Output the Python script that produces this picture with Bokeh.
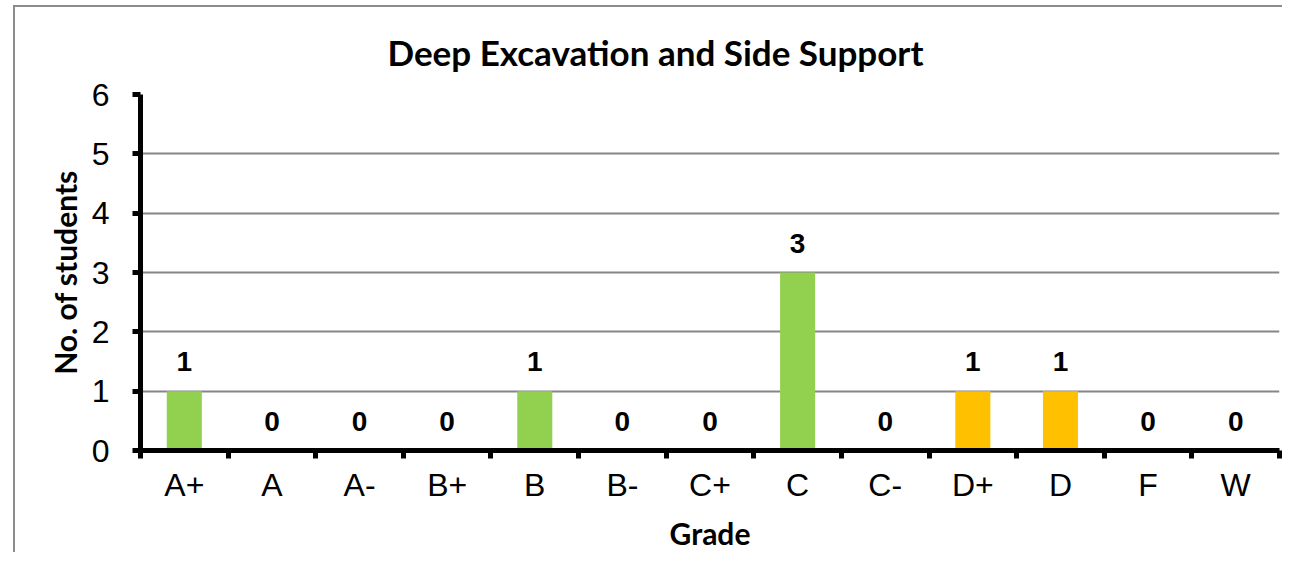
from bokeh.plotting import figure
from bokeh.models import ColumnDataSource, FixedTicker, Range1d
from bokeh.core.properties import value
from bokeh.embed import file_html
from bokeh.resources import INLINE

grades = ["A+", "A", "A-", "B+", "B", "B-", "C+", "C", "C-", "D+", "D", "F", "W"]
students = [1, 0, 0, 0, 1, 0, 0, 3, 0, 1, 1, 0, 0]
colors = ["#92D050"] * 9 + ["#FFC000"] * 2 + ["#92D050"] * 2
title_text = "Deep Excavation and Side Support"

centers = [i + 0.5 for i in range(len(grades))]
src = ColumnDataSource(dict(x=centers, top=students, color=colors,
                            label=[str(v) for v in students]))

p = figure(width=1269, height=547, output_backend="svg", toolbar_location=None,
           x_range=Range1d(0, len(grades)), y_range=Range1d(0, 6),
           min_border_left=125, min_border_right=5, min_border_top=87,
           min_border_bottom=104)
p.styles = {"border-left": "2px solid #8c8c8c", "border-top": "2px solid #8c8c8c",
            "margin-left": "13px", "margin-top": "5px"}

p.title.text = title_text
p.title.align = "left"
p.title.offset = 247
p.title.standoff = 43
p.title.text_font = "Lato"
p.title.text_font_size = "35px"
p.title.text_font_style = "bold"
p.title.text_color = "black"

p.vbar(x="x", top="top", width=0.4, fill_color="color", line_color=None, source=src)
p.text(x="x", y="top", text="label", source=src, text_align="center",
       text_baseline="bottom", y_offset=-20, text_font=value("Liberation Sans"),
       text_font_style="bold", text_font_size="28px", text_color="black")

p.outline_line_color = None
p.xgrid.visible = False
p.ygrid.grid_line_color = "#868686"
p.ygrid.grid_line_width = 2

xa = p.xaxis[0]
xa.ticker = FixedTicker(ticks=centers, minor_ticks=list(range(len(grades) + 1)))
xa.major_label_overrides = {c: g for c, g in zip(centers, grades)}
xa.major_tick_out = 0
xa.major_tick_in = 0
xa.minor_tick_out = 8
xa.minor_tick_in = 0
xa.minor_tick_line_width = 5
xa.minor_tick_line_color = "black"
xa.axis_line_width = 5
xa.axis_line_color = "black"
xa.major_label_text_font = "Liberation Sans"
xa.major_label_text_font_size = "32px"
xa.major_label_text_color = "black"
xa.major_label_standoff = 8
xa.axis_label = "Grade"
xa.axis_label_text_font = "Lato"
xa.axis_label_text_font_size = "30px"
xa.axis_label_text_font_style = "bold"
xa.axis_label_text_color = "black"
xa.axis_label_standoff = 9

ya = p.yaxis[0]
ya.ticker = FixedTicker(ticks=[0, 1, 2, 3, 4, 5, 6])
ya.major_tick_out = 8
ya.major_tick_in = 0
ya.major_tick_line_width = 5
ya.minor_tick_line_color = None
ya.axis_line_width = 5
ya.axis_line_color = "black"
ya.major_label_text_font = "Liberation Sans"
ya.major_label_text_font_size = "32px"
ya.major_label_text_color = "black"
ya.major_label_standoff = 23
ya.axis_label = "No. of students"
ya.axis_label_text_font = "Lato"
ya.axis_label_text_font_size = "30px"
ya.axis_label_text_font_style = "bold"
ya.axis_label_text_color = "black"
ya.axis_label_standoff = 6

open("out.html", "w").write(file_html(p, INLINE))
